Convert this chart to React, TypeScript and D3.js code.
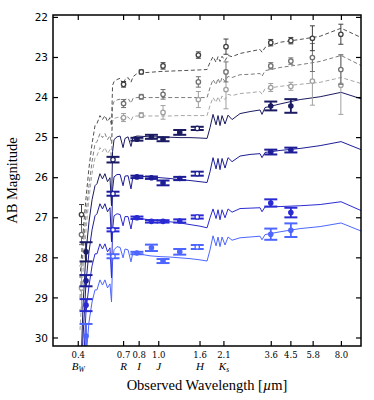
import React from 'react';
import * as d3 from 'd3';

// model spectra grid (observed wavelength, micron)
const gridWave = [0.408, 0.422, 0.437, 0.452, 0.468, 0.484, 0.495, 0.512, 0.527, 0.542, 0.558, 0.574, 0.584, 0.591, 0.601, 0.622, 0.644, 0.666, 0.681, 0.705, 0.729, 0.746, 0.781, 0.836, 0.905, 1.015, 1.137, 1.274, 1.428, 1.6, 1.733, 1.793, 1.855, 1.92, 1.964, 2.009, 2.056, 2.127, 2.201, 2.304, 2.523, 2.828, 3.168, 3.24, 3.354, 3.98, 5.0, 6.28, 7.97, 10.0];

// dashed gray models
const modelGray1 = [28.5, 27.4, 26.5, 25.75, 25.15, 24.7, 24.65, 24.45, 24.55, 24.45, 24.6, 24.5, 24.7, 23.7, 23.6, 23.55, 23.52, 23.68, 23.55, 23.5, 23.62, 23.48, 23.4, 23.38, 23.37, 23.35, 23.34, 23.33, 23.32, 23.31, 23.3, 23.12, 22.98, 23.12, 22.98, 23.1, 22.97, 23.08, 22.95, 22.98, 22.9, 22.85, 22.8, 22.87, 22.75, 22.62, 22.55, 22.47, 22.27, 22.5];
const modelGray2 = [29.0, 27.8, 26.9, 26.2, 25.6, 25.15, 25.1, 24.9, 25.0, 24.9, 25.05, 24.95, 25.15, 24.2, 24.1, 24.06, 24.04, 24.18, 24.05, 24.02, 24.14, 24.02, 24.0, 24.0, 24.0, 24.0, 24.0, 24.0, 24.0, 24.0, 24.0, 23.75, 23.55, 23.68, 23.52, 23.65, 23.5, 23.6, 23.47, 23.5, 23.43, 23.42, 23.4, 23.47, 23.33, 23.25, 23.18, 23.1, 22.95, 23.2];
const modelGray3 = [29.8, 28.4, 27.3, 26.5, 25.9, 25.5, 25.45, 25.25, 25.35, 25.25, 25.4, 25.3, 25.5, 24.6, 24.52, 24.5, 24.48, 24.62, 24.5, 24.48, 24.58, 24.47, 24.46, 24.46, 24.46, 24.46, 24.46, 24.45, 24.45, 24.45, 24.45, 24.2, 24.0, 24.12, 23.98, 24.1, 23.96, 24.05, 23.92, 23.95, 23.9, 23.88, 23.85, 23.92, 23.78, 23.72, 23.67, 23.62, 23.5, 23.65];

// solid blue models
const modelBlue1 = [31.5, 29.2, 27.85, 27.1, 26.55, 26.2, 26.15, 25.9, 26.03, 25.9, 26.1, 26.0, 26.7, 25.35, 25.05, 24.98, 24.96, 25.25, 25.02, 24.98, 25.22, 24.99, 24.96, 24.97, 24.98, 24.98, 24.99, 25.0, 25.0, 25.01, 25.02, 24.75, 24.42, 24.68, 24.45, 24.7, 24.45, 24.66, 24.44, 24.55, 24.4, 24.35, 24.31, 24.42, 24.25, 24.16, 24.05, 23.98, 23.87, 24.03];
const modelBlue2 = [32.0, 30.0, 28.6, 27.85, 27.3, 26.95, 26.9, 26.65, 26.78, 26.65, 26.85, 26.75, 27.6, 26.3, 25.98, 25.92, 25.92, 26.2, 25.96, 25.95, 26.28, 25.96, 25.95, 25.97, 25.98, 26.0, 26.02, 26.05, 26.07, 26.1, 26.12, 25.85, 25.5, 25.78, 25.52, 25.8, 25.52, 25.76, 25.5, 25.6, 25.46, 25.42, 25.4, 25.5, 25.37, 25.32, 25.27, 25.2, 25.1, 25.3];
const modelBlue3 = [33.0, 31.0, 29.3, 28.7, 28.2, 27.9, 27.9, 27.65, 27.78, 27.65, 27.85, 27.75, 28.5, 27.3, 26.95, 26.9, 26.92, 27.2, 26.97, 26.97, 27.28, 27.0, 27.0, 27.03, 27.05, 27.08, 27.1, 27.13, 27.17, 27.21, 27.25, 27.0, 26.78, 27.02, 26.8, 27.05, 26.8, 27.0, 26.78, 26.86, 26.77, 26.76, 26.75, 26.85, 26.73, 26.72, 26.7, 26.67, 26.6, 26.82];
const modelBlue4 = [34.0, 32.0, 30.5, 29.6, 29.1, 28.8, 28.8, 28.55, 28.68, 28.55, 28.75, 28.65, 29.1, 28.1, 27.8, 27.72, 27.74, 28.0, 27.78, 27.8, 28.1, 27.85, 27.88, 27.92, 27.95, 27.97, 27.98, 28.0, 28.02, 28.05, 28.08, 27.8, 27.45, 27.7, 27.48, 27.72, 27.48, 27.68, 27.48, 27.56, 27.5, 27.48, 27.46, 27.55, 27.42, 27.35, 27.27, 27.22, 27.13, 27.33];

// photometry, gray objects
const grayWave = [0.415, 0.67, 0.82, 1.05, 1.57, 2.15, 3.58, 4.5, 5.75, 7.95];
const gray1Mag = [26.92, 23.67, 23.36, 23.21, 22.94, 22.73, 22.63, 22.58, 22.52, 22.42];
const gray1Err = [0.25, 0.07, 0.05, 0.08, 0.08, 0.19, 0.08, 0.08, 0.31, 0.25];
const gray2Mag = [27.42, 24.15, 23.98, 23.92, 23.61, 23.36, 23.21, 23.09, 23.0, 23.3];
const gray2Err = [0.25, 0.1, 0.06, 0.12, 0.13, 0.25, 0.08, 0.08, 0.35, 0.37];
const gray3Mag = [28.75, 24.5, 24.44, 24.37, 24.05, 23.8, 23.75, 23.72, 23.59, 23.69];
const gray3Err = [0.55, 0.1, 0.06, 0.17, 0.2, 0.48, 0.1, 0.1, 0.6, 0.73];

// photometry, blue objects
const blueWave = [0.437, 0.594, 0.78, 0.92, 1.05, 1.27, 1.55, 3.58, 4.5];
const blueOpen = [false, true, false, false, false, false, true, false, false];
const blue1Mag = [27.85, 25.55, 25.04, 24.98, 25.04, 24.87, 24.77, 24.21, 24.21];
const blue1Err = [0.24, 0.07, 0.035, 0.05, 0.05, 0.06, 0.04, 0.11, 0.17];
const blue2Mag = [28.57, 26.4, 25.98, 26.0, 26.13, 26.02, 25.9, 25.36, 25.31];
const blue2Err = [0.14, 0.05, 0.03, 0.03, 0.06, 0.04, 0.05, 0.06, 0.06];
const blue3Mag = [29.18, 27.3, 27.0, 27.09, 27.09, 27.08, 26.98, 26.63, 26.87];
const blue3Err = [0.15, 0.04, 0.03, 0.03, 0.03, 0.04, 0.04, 0.09, 0.12];
const blue4Mag = [29.95, 27.96, 27.88, 27.75, 28.08, 27.85, 27.73, 27.41, 27.31];
const blue4Err = [0.3, 0.05, 0.03, 0.08, 0.05, 0.07, 0.05, 0.14, 0.17];

const xTicks = [0.4, 0.67, 0.8, 1.0, 1.6, 2.1, 3.6, 4.5, 5.8, 8.0];
const xTickLabels = ['0.4', '0.7', '0.8', '1.0', '1.6', '2.1', '3.6', '4.5', '5.8', '8.0'];
const bandNames = [['B', 'W'], ['R', ''], ['I', ''], ['J', ''], ['H', ''], ['K', 's']];
const yTicks = [22, 23, 24, 25, 26, 27, 28, 29, 30];

const left = 53, right = 361, top = 15, bottom = 346;

export default function App() {
  const x = d3.scaleLog().domain([0.3, 10]).range([left, right]);
  const y = d3.scaleLinear().domain([21.94, 30.2]).range([top, bottom]);
  const line = d3.line<number>().x((d, i) => x(gridWave[i])).y((d) => y(d));

  const grayModels = [
    { mags: modelGray3, color: '#a6a6a6' },
    { mags: modelGray2, color: '#7d7d7d' },
    { mags: modelGray1, color: '#505050' },
  ];
  const blueModels = [
    { mags: modelBlue4, color: '#4d66ff' },
    { mags: modelBlue3, color: '#2a2ad2' },
    { mags: modelBlue2, color: '#1d1d98' },
    { mags: modelBlue1, color: '#1b1b62' },
  ];
  const grayPts = [
    { mags: gray3Mag, errs: gray3Err, color: '#a0a0a0' },
    { mags: gray2Mag, errs: gray2Err, color: '#707070' },
    { mags: gray1Mag, errs: gray1Err, color: '#404040' },
  ];
  const bluePts = [
    { mags: blue4Mag, errs: blue4Err, color: '#4d66ff' },
    { mags: blue3Mag, errs: blue3Err, color: '#2a2ad2' },
    { mags: blue2Mag, errs: blue2Err, color: '#1d1d98' },
    { mags: blue1Mag, errs: blue1Err, color: '#1b1b62' },
  ];

  return (
    <svg width={374} height={400} style={{ position: 'absolute', left: 0, top: 0, background: '#fff' }}>
      <defs>
        <clipPath id="plot">
          <rect x={left} y={top} width={right - left} height={bottom - top} />
        </clipPath>
      </defs>
      <g clipPath="url(#plot)">
        {grayModels.map((m, k) => (
          <path key={'g' + k} d={line(m.mags) || ''} fill="none" stroke={m.color} strokeWidth={1} strokeDasharray="4,2.5" />
        ))}
        {blueModels.map((m, k) => (
          <path key={'b' + k} d={line(m.mags) || ''} fill="none" stroke={m.color} strokeWidth={1} />
        ))}
        {grayPts.map((s, k) => (
          <g key={'gp' + k} stroke={s.color} fill="#fff">
            {s.mags.map((m, i) => {
              const cx = x(grayWave[i]);
              return (
                <g key={i}>
                  <line x1={cx} x2={cx} y1={y(m - s.errs[i])} y2={y(m + s.errs[i])} strokeWidth={1} />
                  <line x1={cx - 2.5} x2={cx + 2.5} y1={y(m - s.errs[i])} y2={y(m - s.errs[i])} strokeWidth={1} />
                  <line x1={cx - 2.5} x2={cx + 2.5} y1={y(m + s.errs[i])} y2={y(m + s.errs[i])} strokeWidth={1} />
                  <circle cx={cx} cy={y(m)} r={2.2} strokeWidth={1.3} />
                </g>
              );
            })}
          </g>
        ))}
        {bluePts.map((s, k) => (
          <g key={'bp' + k} stroke={s.color}>
            {s.mags.map((m, i) => {
              const cx = x(blueWave[i]);
              return (
                <g key={i}>
                  <line x1={cx} x2={cx} y1={y(m - s.errs[i])} y2={y(m + s.errs[i])} strokeWidth={1.8} />
                  <line x1={cx - 6.5} x2={cx + 6.5} y1={y(m - s.errs[i])} y2={y(m - s.errs[i])} strokeWidth={2} />
                  <line x1={cx - 6.5} x2={cx + 6.5} y1={y(m + s.errs[i])} y2={y(m + s.errs[i])} strokeWidth={2} />
                  <circle cx={cx} cy={y(m)} r={2.2} strokeWidth={1.2} fill={blueOpen[i] ? '#fff' : s.color} />
                </g>
              );
            })}
          </g>
        ))}
      </g>
      <rect x={left} y={top} width={right - left} height={bottom - top} fill="none" stroke="#000" strokeWidth={1.5} />
      {yTicks.map((t) => (
        <g key={'y' + t}>
          <line x1={left} x2={left + 5} y1={y(t)} y2={y(t)} stroke="#000" strokeWidth={1.2} />
          <line x1={right - 5} x2={right} y1={y(t)} y2={y(t)} stroke="#000" strokeWidth={1.2} />
          <text x={left - 5} y={y(t)} dy="0.35em" textAnchor="end" fontFamily="DejaVu Sans" fontSize={10.5}>{t}</text>
        </g>
      ))}
      {xTicks.map((t, i) => (
        <g key={'x' + i}>
          <line x1={x(t)} x2={x(t)} y1={bottom} y2={bottom - 5} stroke="#000" strokeWidth={1.2} />
          <line x1={x(t)} x2={x(t)} y1={top} y2={top + 5} stroke="#000" strokeWidth={1.2} />
          <text x={x(t)} y={357.5} textAnchor="middle" fontFamily="DejaVu Serif" fontSize={8.5}>{xTickLabels[i]}</text>
          {i < bandNames.length && (
            <text x={x(t)} y={369.5} textAnchor="middle" fontFamily="Liberation Serif" fontStyle="italic" fontSize={11}>
              {bandNames[i][0]}
              {bandNames[i][1] && <tspan fontSize={7.5} dy={2.5}>{bandNames[i][1]}</tspan>}
            </text>
          )}
        </g>
      ))}
      <text x={(left + right) / 2} y={390} textAnchor="middle" fontFamily="Liberation Serif" fontSize={14.5}>
        Observed Wavelength [<tspan fontStyle="italic">µ</tspan>m]
      </text>
      <text transform={`translate(17,${(top + bottom) / 2}) rotate(-90)`} textAnchor="middle" fontFamily="Liberation Serif" fontSize={14.5}>
        AB Magnitude
      </text>
    </svg>
  );
}
